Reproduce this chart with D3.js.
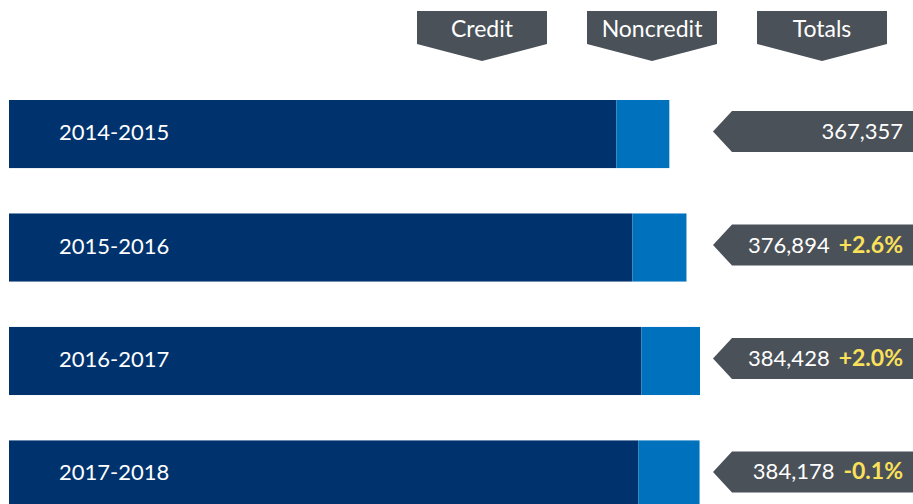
<html>
<head>
  <script src="https://d3js.org/d3.v7.min.js"></script>
  <style>
    body { margin: 0; padding: 0; background: #fff; }
    svg { display: block; font-family: Lato, sans-serif; }
  </style>
</head>
<body>
<div id="chart"></div>
<script>
// values
const years = ["2014-2015", "2015-2016", "2016-2017", "2017-2018"];
const credit = [337900, 346800, 351800, 350100];
const noncredit = [29457, 30094, 32628, 34078];
const totals = [367357, 376894, 384428, 384178];
const changes = [null, "+2.6%", "+2.0%", "-0.1%"];
const headers = ["Credit", "Noncredit", "Totals"];

const width = 913, height = 504;
const navy = "#00336e", blue = "#0071bc", gray = "#4a5158", yellow = "#fbe15a";

const svg = d3.select("#chart").append("svg")
  .attr("width", width)
  .attr("height", height);

const x = d3.scaleLinear().domain([0, 400000]).range([9, 728]);
const y = d3.scaleBand().domain(years).range([100, 508.5]).paddingInner(0.4).paddingOuter(0);

// header tags
const hx = d3.scalePoint().domain(headers).range([482, 822]);
const hw = 130;
const head = svg.selectAll("g.head").data(headers).enter().append("g")
  .attr("class", "head")
  .attr("transform", d => `translate(${hx(d)},0)`);
head.append("path")
  .attr("d", `M${-hw / 2},11 H${hw / 2} V44 L0,61 L${-hw / 2},44 Z`)
  .attr("fill", gray);
head.append("text")
  .attr("y", 37)
  .attr("text-anchor", "middle")
  .attr("fill", "#fff")
  .style("font-size", "23px")
  .text(d => d);

// bars
const rows = svg.selectAll("g.row").data(years).enter().append("g")
  .attr("class", "row");

rows.append("rect")
  .attr("x", x(0))
  .attr("y", d => y(d))
  .attr("width", (d, i) => x(credit[i]) - x(0))
  .attr("height", y.bandwidth())
  .attr("fill", navy);

rows.append("rect")
  .attr("x", (d, i) => x(credit[i]))
  .attr("y", d => y(d))
  .attr("width", (d, i) => x(credit[i] + noncredit[i]) - x(credit[i]))
  .attr("height", y.bandwidth())
  .attr("fill", blue);

rows.append("text")
  .attr("x", 59)
  .attr("y", d => y(d) + y.bandwidth() / 2 + 6)
  .attr("fill", "#fff")
  .style("font-size", "22px")
  .text(d => d);

// total tags
const tagH = 41;
rows.append("path")
  .attr("d", d => {
    const cy = y(d) + y.bandwidth() / 2 - 2.5;
    return `M713,${cy} L732,${cy - tagH / 2} H${width} V${cy + tagH / 2} H732 Z`;
  })
  .attr("fill", gray);

const lbl = rows.append("text")
  .attr("x", 903)
  .attr("y", d => y(d) + y.bandwidth() / 2 + 5)
  .attr("text-anchor", "end")
  .style("font-size", "22px");
lbl.append("tspan")
  .attr("fill", "#fff")
  .text((d, i) => d3.format(",")(totals[i]));
lbl.filter(d => changes[years.indexOf(d)] !== null).append("tspan")
  .attr("fill", yellow)
  .attr("font-weight", "bold")
  .attr("dx", 9)
  .style("font-size", "23px")
  .text(d => changes[years.indexOf(d)]);
</script>
</body>
</html>
